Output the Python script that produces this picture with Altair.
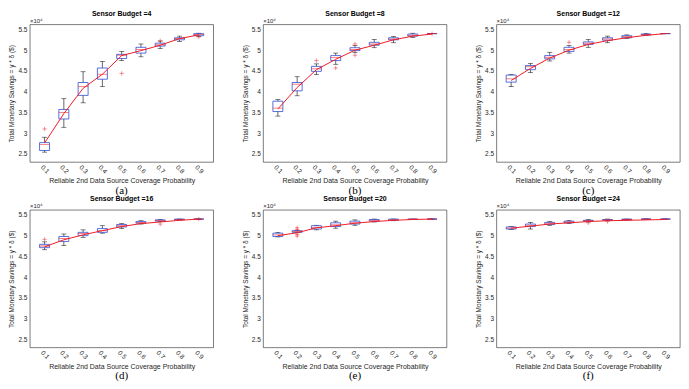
import altair as alt
import pandas as pd

probs = [0.1, 0.2, 0.3, 0.4, 0.5, 0.6, 0.7, 0.8, 0.9]
budgets = [4, 8, 12, 16, 20, 24]
captions = ["(a)", "(b)", "(c)", "(d)", "(e)", "(f)"]

# box statistics (values in units of 10^4 $)
q1 = {
    4:  [2.58, 3.34, 3.91, 4.30, 4.80, 4.93, 5.10, 5.25, 5.35],
    8:  [3.52, 4.02, 4.49, 4.75, 4.99, 5.12, 5.25, 5.34, 5.40],
    12: [4.23, 4.53, 4.79, 4.97, 5.14, 5.24, 5.30, 5.37, 5.40],
    16: [4.71, 4.86, 5.00, 5.08, 5.21, 5.30, 5.35, 5.38, 5.40],
    20: [4.98, 5.08, 5.16, 5.22, 5.28, 5.35, 5.37, 5.39, 5.40],
    24: [5.16, 5.22, 5.27, 5.31, 5.35, 5.37, 5.38, 5.40, 5.40],
}
q3 = {
    4:  [2.77, 3.57, 4.22, 4.57, 4.90, 5.07, 5.17, 5.30, 5.40],
    8:  [3.77, 4.22, 4.61, 4.87, 5.06, 5.19, 5.30, 5.39, 5.40],
    12: [4.40, 4.63, 4.87, 5.07, 5.20, 5.30, 5.35, 5.39, 5.40],
    16: [4.79, 4.98, 5.08, 5.17, 5.27, 5.34, 5.38, 5.40, 5.40],
    20: [5.06, 5.12, 5.24, 5.31, 5.35, 5.39, 5.40, 5.40, 5.40],
    24: [5.21, 5.28, 5.32, 5.35, 5.37, 5.39, 5.40, 5.40, 5.40],
}
med = {
    4:  [2.72, 3.50, 4.12, 4.42, 4.88, 5.02, 5.13, 5.28, 5.38],
    8:  [3.60, 4.18, 4.55, 4.82, 5.02, 5.15, 5.27, 5.36, 5.40],
    12: [4.31, 4.60, 4.83, 5.02, 5.17, 5.27, 5.33, 5.38, 5.40],
    16: [4.75, 4.93, 5.05, 5.12, 5.24, 5.32, 5.37, 5.39, 5.40],
    20: [5.02, 5.10, 5.20, 5.26, 5.31, 5.37, 5.38, 5.40, 5.40],
    24: [5.18, 5.25, 5.30, 5.33, 5.36, 5.38, 5.39, 5.40, 5.40],
}
wlo = {
    4:  [2.54, 3.14, 3.73, 4.12, 4.75, 4.84, 5.04, 5.21, 5.33],
    8:  [3.41, 3.90, 4.41, 4.66, 4.94, 5.06, 5.18, 5.31, 5.40],
    12: [4.12, 4.46, 4.74, 4.93, 5.07, 5.18, 5.28, 5.36, 5.40],
    16: [4.66, 4.76, 4.96, 5.06, 5.17, 5.28, 5.34, 5.38, 5.40],
    20: [4.97, 5.07, 5.14, 5.18, 5.25, 5.33, 5.36, 5.39, 5.40],
    24: [5.15, 5.16, 5.25, 5.29, 5.33, 5.36, 5.38, 5.40, 5.40],
}
whi = {
    4:  [2.90, 3.83, 4.48, 4.73, 4.97, 5.15, 5.22, 5.34, 5.41],
    8:  [3.81, 4.36, 4.67, 4.93, 5.11, 5.26, 5.33, 5.41, 5.40],
    12: [4.41, 4.68, 4.95, 5.11, 5.26, 5.34, 5.37, 5.40, 5.40],
    16: [4.85, 5.04, 5.14, 5.24, 5.29, 5.36, 5.39, 5.40, 5.40],
    20: [5.08, 5.13, 5.25, 5.35, 5.38, 5.40, 5.40, 5.40, 5.40],
    24: [5.22, 5.32, 5.34, 5.37, 5.39, 5.40, 5.40, 5.40, 5.40],
}
mean = {
    4:  [2.76, 3.47, 4.08, 4.42, 4.87, 4.99, 5.12, 5.28, 5.37],
    8:  [3.58, 4.10, 4.53, 4.78, 5.00, 5.12, 5.25, 5.34, 5.39],
    12: [4.27, 4.56, 4.81, 5.00, 5.14, 5.23, 5.30, 5.36, 5.40],
    16: [4.73, 4.90, 5.02, 5.12, 5.22, 5.29, 5.33, 5.37, 5.40],
    20: [5.00, 5.07, 5.19, 5.24, 5.30, 5.34, 5.37, 5.39, 5.40],
    24: [5.18, 5.23, 5.28, 5.31, 5.34, 5.36, 5.37, 5.38, 5.39],
}
outlier_budget = [4, 4, 4, 4, 8, 8, 8, 8, 8, 12, 16, 16, 16, 20, 20, 20, 20, 24, 24]
outlier_p = [0.1, 0.5, 0.7, 0.9, 0.3, 0.4, 0.5, 0.5, 0.9, 0.4, 0.1, 0.7, 0.9,
             0.2, 0.2, 0.2, 0.2, 0.5, 0.6]
outlier_v = [3.10, 4.44, 5.23, 5.32, 4.75, 4.57, 5.15, 4.88, 5.40, 5.19, 4.91, 5.28, 5.40,
             5.19, 5.15, 5.03, 4.99, 5.31, 5.34]

y_ticks = [2.5, 3, 3.5, 4, 4.5, 5, 5.5]

rows = []
for b in budgets:
    for i, p in enumerate(probs):
        rows.append(dict(budget=b, p=p, q1=q1[b][i], q3=q3[b][i], med=med[b][i],
                         wlo=wlo[b][i], whi=whi[b][i], mean=mean[b][i]))
stats = pd.DataFrame(rows)
outl = pd.DataFrame({"budget": outlier_budget, "p": outlier_p, "v": outlier_v})

W, H = 184, 138
FONT = "Liberation Sans"
BLUE = "#2f4fd6"
RED = "#f01c24"

xaxis = alt.Axis(values=probs, format=".1f", title="Reliable 2nd Data Source Coverage Probability",
                 labelAngle=45, labelAlign="center", labelBaseline="middle", labelPadding=7,
                 ticks=False, domain=False, grid=False, labelFontSize=6.5, titleFontSize=7,
                 titleFontWeight="normal", titlePadding=2, labelFont=FONT, titleFont=FONT,
                 labelColor="#262626", titleColor="#262626")
yaxis = alt.Axis(values=y_ticks, format="~g", title="Total Monetary Savings = y * δ ($)",
                 ticks=False, domain=False, grid=False, labelFontSize=6.5, titleFontSize=6.5,
                 titleFontWeight="normal", titlePadding=3, labelPadding=3, labelFont=FONT,
                 titleFont=FONT, labelColor="#262626", titleColor="#262626")
xscale = alt.Scale(domain=[0.05, 0.95], nice=False, zero=False)
yscale = alt.Scale(domain=[2.3, 5.62], nice=False, zero=False)


def X():
    return alt.X("p:Q", scale=xscale, axis=xaxis)


def Y(f):
    return alt.Y(f"{f}:Q", scale=yscale, axis=yaxis)


def panel(b, cap):
    base = alt.Chart(stats).transform_filter(alt.datum.budget == b)
    w_hi = base.mark_rule(color="black", strokeWidth=0.6).encode(x=X(), y=Y("q3"), y2="whi:Q")
    w_lo = base.mark_rule(color="black", strokeWidth=0.6).encode(x=X(), y=Y("wlo"), y2="q1:Q")
    cap_hi = base.mark_tick(orient="horizontal", size=5, thickness=0.7, color="black").encode(x=X(), y=Y("whi"))
    cap_lo = base.mark_tick(orient="horizontal", size=5, thickness=0.7, color="black").encode(x=X(), y=Y("wlo"))
    box = base.mark_bar(size=10, fillOpacity=0, stroke=BLUE, strokeWidth=0.8).encode(
        x=X(), y=Y("q1"), y2="q3:Q")
    median = base.mark_tick(orient="horizontal", size=10, thickness=0.8, color=RED).encode(x=X(), y=Y("med"))
    line = base.mark_line(color=RED, strokeWidth=1).encode(x=X(), y=Y("mean"))
    pts = alt.Chart(outl).transform_filter(alt.datum.budget == b).mark_point(
        shape="M-1,0L1,0M0,-1L0,1", size=18, filled=False, color=RED, strokeWidth=0.7
    ).encode(x=X(), y=Y("v"))
    exp = alt.Chart(pd.DataFrame({"t": ["×10⁴"]})).mark_text(
        align="left", baseline="bottom", fontSize=6, font=FONT, color="#262626"
    ).encode(x=alt.value(0), y=alt.value(-1), text="t:N")
    capt = alt.Chart(pd.DataFrame({"t": [cap]})).mark_text(
        font="Liberation Serif", fontSize=11, baseline="middle", color="black"
    ).encode(x=alt.value(W / 2), y=alt.value(H + 29), text="t:N")
    return alt.layer(w_hi, w_lo, cap_hi, cap_lo, box, median, line, pts, exp, capt).properties(
        width=W, height=H,
        title=alt.TitleParams(f"Sensor Budget ={b}", fontSize=7, fontWeight="bold", font=FONT,
                              offset=1, anchor="middle", frame="group", color="black"),
    )


chart = alt.concat(*[panel(b, c) for b, c in zip(budgets, captions)], columns=3,
                   spacing={"row": 48, "column": 50}, bounds="flush").properties(
    padding={"left": 0, "top": 0, "right": 0, "bottom": 0}
).configure_view(stroke="#262626", strokeWidth=0.6)

chart.save("out.html", embed_options={"renderer": "svg", "actions": False})
